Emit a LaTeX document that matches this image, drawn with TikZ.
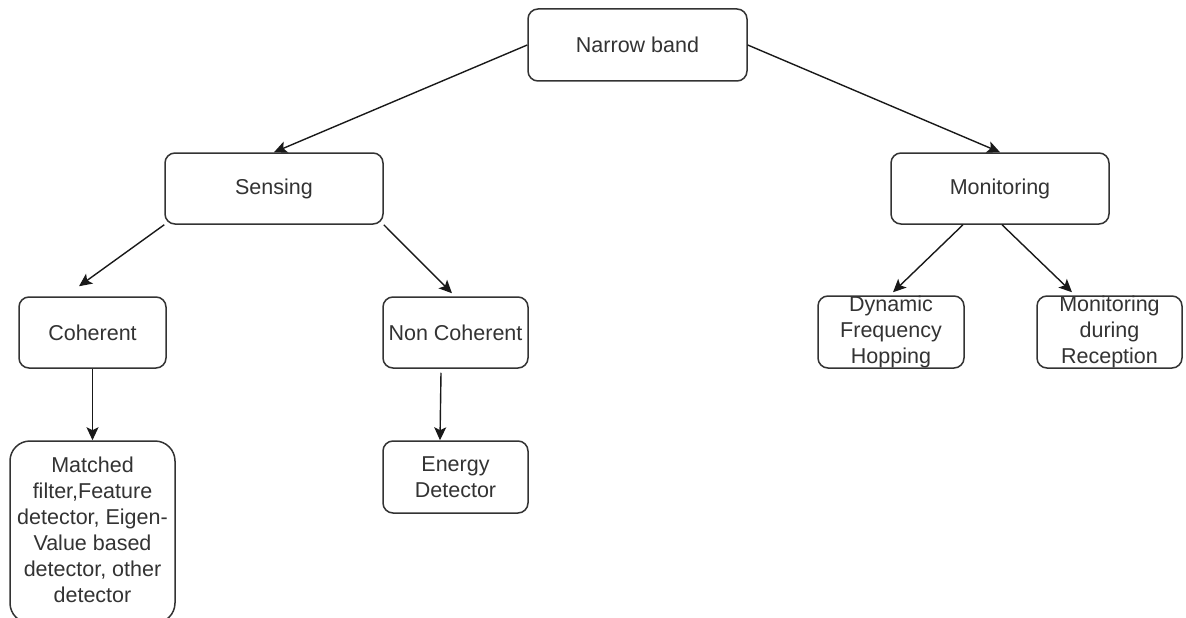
\documentclass[tikz,border=0pt]{standalone}
\usepackage{fontspec}
\setmainfont{Liberation Sans}
\usetikzlibrary{arrows.meta}
\begin{document}
\begin{tikzpicture}[x=1pt,y=-1pt,
  box/.style={draw=black!80, line width=1.5pt, rounded corners=10pt, fill=white,
    inner sep=0pt, minimum width=#1},
  box/.default=145pt,
  lbl/.style={text=black!80, align=center, inner sep=0pt,
    font=\fontsize{21.5}{26}\selectfont},
  link/.style={draw=black!90, line width=1.4pt,
    -{Stealth[length=13pt,width=12pt,inset=3pt]}}
]
\useasboundingbox (0,0) rectangle (1186,618);

% boxes
\node[box=219pt, minimum height=72pt] (nb)     at (637.5,45)  {};
\node[box=218pt, minimum height=71pt] (sens)   at (274,188.5) {};
\node[box=218pt, minimum height=71pt] (mon)    at (1000,188.5) {};
\node[box=147pt, minimum height=71pt] (coh)    at (92.5,332.5) {};
\node[box=145pt, minimum height=71pt] (nonc)   at (455.5,332.5) {};
\node[box=165pt, minimum height=182pt, rounded corners=20pt] (match) at (92.5,532) {};
\node[box=145pt, minimum height=72pt] (energy) at (455.5,477) {};
\node[box=146pt, minimum height=72pt] (dyn)    at (891,332) {};
\node[box=145pt, minimum height=72pt] (mdr)    at (1109.5,332) {};

% labels
\node[lbl] (tnb)     at (nb.center)     {Narrow band};
\node[lbl] (tsens)   at (sens.center)   {Sensing};
\node[lbl] (tmon)    at (mon.center)    {Monitoring};
\node[lbl] (tcoh)    at (coh.center)    {Coherent};
\node[lbl] (tnonc)   at (nonc.center)   {Non Coherent};
\node[lbl] (tmatch)  at (92.5,530)      {Matched\\filter,Feature\\detector, Eigen-\\Value based\\detector, other\\detector};
\node[lbl] (tenergy) at (energy.center) {Energy\\Detector};
\node[lbl] (tdyn)    at (dyn.center)    {Dynamic\\Frequency\\Hopping};
\node[lbl] (tmdr)    at (mdr.center)    {Monitoring\\during\\Reception};

% connectors
\draw[link] (nb.west) -- (sens.north);
\draw[link] (nb.east) -- (mon.north);
\draw[link] (sens.south west) -- ([xshift=-13.5pt,yshift=10pt]coh.north);
\draw[link] (sens.south east) -- ([xshift=-3.5pt,yshift=3pt]nonc.north);
\draw[link] (coh.south) -- (match.north);
\draw[link] ([xshift=-14.5pt,yshift=-4pt]nonc.south) -- ([xshift=-15.5pt]energy.north);
\draw[link] ([xshift=-37pt]mon.south) -- ([xshift=2pt,yshift=3pt]dyn.north);
\draw[link] ([xshift=2pt]mon.south) -- ([xshift=-37.5pt,yshift=3pt]mdr.north);
\end{tikzpicture}
\end{document}
